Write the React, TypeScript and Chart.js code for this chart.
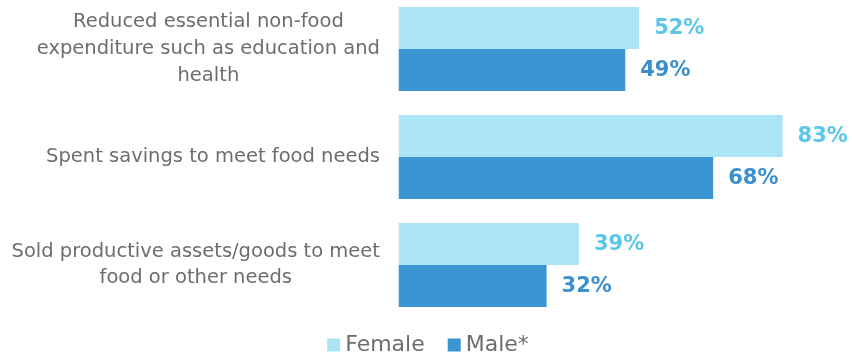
import React, { useEffect, useRef } from "react";
import { Chart, registerables } from "chart.js";

Chart.register(...registerables);

const categories: string[][] = [
  ["Reduced essential non-food", "expenditure such as education and", "health"],
  ["Spent savings to meet food needs"],
  ["Sold productive assets/goods to meet", "food or other needs"],
];
const femaleValues = [52, 83, 39];
const maleValues = [49, 68, 32];
const seriesNames = ["Female", "Male*"];

const FEMALE_BAR = "#abe4f5";
const MALE_BAR = "#3a95d3";
const FEMALE_LABEL = "#5ac6ea";
const MALE_LABEL = "#3a8fcf";
const TEXT_GREY = "#6d6d6d";

const categoryLabelsPlugin = {
  id: "categoryLabels",
  afterDraw(chart: any) {
    const { ctx } = chart;
    const y = chart.scales.y;
    const rightEdge = 380;
    const lineH = 26.7;
    ctx.save();
    ctx.font = '400 19.5px "DejaVu Sans"';
    ctx.fillStyle = TEXT_GREY;
    ctx.textAlign = "center";
    ctx.textBaseline = "middle";
    categories.forEach((lines, i) => {
      const cy = y.getPixelForValue(i);
      const widest = Math.max(...lines.map((l) => ctx.measureText(l).width));
      const cx = rightEdge - widest / 2;
      const startY = cy - ((lines.length - 1) * lineH) / 2;
      lines.forEach((l, j) => ctx.fillText(l, cx, startY + j * lineH));
    });
    ctx.restore();
  },
};

const valueLabelsPlugin = {
  id: "valueLabels",
  afterDatasetsDraw(chart: any) {
    const { ctx } = chart;
    const colors = [FEMALE_LABEL, MALE_LABEL];
    ctx.save();
    ctx.font = '700 21px "DejaVu Sans"';
    ctx.textAlign = "left";
    ctx.textBaseline = "middle";
    chart.data.datasets.forEach((ds: any, di: number) => {
      const meta = chart.getDatasetMeta(di);
      ctx.fillStyle = colors[di];
      meta.data.forEach((el: any, i: number) => {
        ctx.fillText(`${ds.data[i]}%`, el.x + 15, el.y + 1);
      });
    });
    ctx.restore();
  },
};

export default function App() {
  const ref = useRef<HTMLCanvasElement>(null);
  useEffect(() => {
    if (!ref.current) return;
    const chart = new Chart(ref.current, {
      type: "bar",
      data: {
        labels: categories.map((c) => c.join(" ")),
        datasets: [
          {
            label: seriesNames[0],
            data: femaleValues,
            backgroundColor: FEMALE_BAR,
            borderWidth: 0,
            categoryPercentage: 0.7778,
            barPercentage: 1,
          },
          {
            label: seriesNames[1],
            data: maleValues,
            backgroundColor: MALE_BAR,
            borderWidth: 0,
            categoryPercentage: 0.7778,
            barPercentage: 1,
          },
        ],
      },
      options: {
        indexAxis: "y",
        animation: false,
        responsive: true,
        maintainAspectRatio: false,
        layout: { padding: { left: 10, right: 0, top: 1, bottom: 0 } },
        scales: {
          x: { display: false, min: 0, max: 98 },
          y: {
            display: true,
            grid: { display: false },
            border: { display: false },
            ticks: { display: false },
            afterFit: (scale: any) => {
              scale.width = 388.5;
            },
          },
        },
        plugins: {
          tooltip: { enabled: false },
          legend: {
            display: true,
            position: "bottom",
            labels: {
              usePointStyle: true,
              pointStyle: "rect",
              boxWidth: 1,
              boxHeight: 13,
              padding: 15,
              color: TEXT_GREY,
              font: { family: "DejaVu Sans", size: 22, weight: "normal" },
              generateLabels: (ch: any) =>
                ch.data.datasets.map((ds: any, i: number) => ({
                  text: i === 0 ? ds.label + "  " : ds.label,
                  fillStyle: ds.backgroundColor,
                  strokeStyle: ds.backgroundColor,
                  lineWidth: 0,
                  pointStyle: "rect",
                  hidden: false,
                  datasetIndex: i,
                  fontColor: TEXT_GREY,
                })),
            },
          },
        },
      },
      plugins: [categoryLabelsPlugin, valueLabelsPlugin],
    });
    return () => chart.destroy();
  }, []);

  return (
    <div
      style={{
        position: "fixed",
        left: 0,
        top: 0,
        width: 852,
        height: 354,
        overflow: "hidden",
        background: "#fff",
      }}
    >
      <div style={{ position: "absolute", left: 0, top: -6, width: 852, height: 372 }}>
        <canvas ref={ref} />
      </div>
    </div>
  );
}
